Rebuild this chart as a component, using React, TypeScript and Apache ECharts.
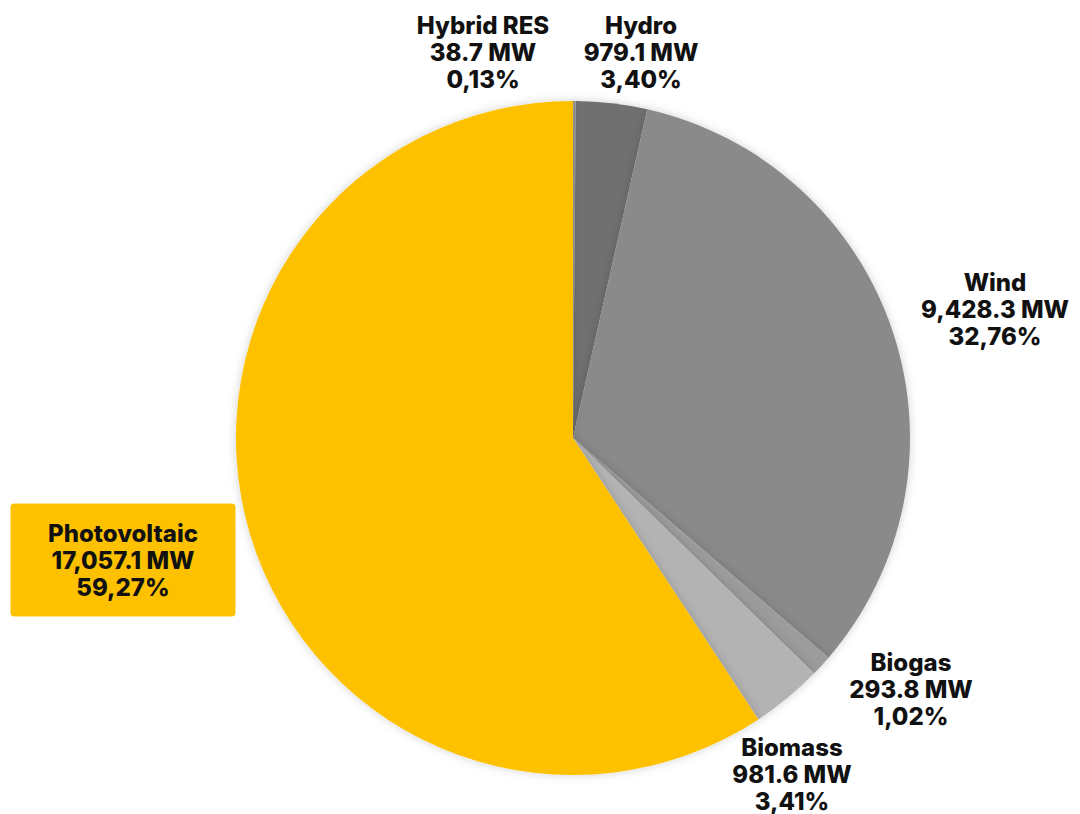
import React, { useEffect, useRef } from "react";
import * as echarts from "echarts";

const categories = ["Hybrid RES", "Hydro", "Wind", "Biogas", "Biomass", "Photovoltaic"];
const capacityMW = [38.7, 979.1, 9428.3, 293.8, 981.6, 17057.1];
const colors = ["#a3a3a3", "#6f6f6f", "#8a8a8a", "#9c9c9c", "#b3b3b3", "#fdc100"];
// label anchor points (layout only)
const labelPos = [
  [483, 52],
  [641, 52],
  [995, 309],
  [911, 689],
  [792, 774],
  [123, 560],
];

function fmtMW(v: number): string {
  return v.toLocaleString("en-US", { minimumFractionDigits: 1, maximumFractionDigits: 1 }) + " MW";
}

export default function App() {
  const ref = useRef<HTMLDivElement>(null);
  useEffect(() => {
    if (!ref.current) return;
    const chart = echarts.init(ref.current, null, { renderer: "svg" });
    const total = capacityMW.reduce((a, b) => a + b, 0);
    const textStyle = {
      fontFamily: "Inter, 'Noto Sans', sans-serif",
      fontWeight: 800 as any,
      fontSize: 24,
      lineHeight: 27,
      color: "#111111",
      align: "center" as const,
    };
    const data = categories.map((name, i) => {
      const d: any = {
        name,
        value: capacityMW[i],
        itemStyle: { color: colors[i] },
      };
      if (name === "Photovoltaic") {
        d.label = {
          backgroundColor: "#fdc100",
          padding: [17, 12, 15, 12],
          width: 201,
          borderRadius: 4,
        };
      }
      return d;
    });
    chart.setOption({
      animation: false,
      backgroundColor: "#ffffff",
      series: [
        {
          type: "pie",
          center: [573, 438],
          radius: 337,
          startAngle: 90,
          clockwise: true,
          avoidLabelOverlap: false,
          itemStyle: {
            shadowBlur: 10,
            shadowColor: "rgba(0,0,0,0.18)",
          },
          label: {
            show: true,
            position: "outside",
            ...textStyle,
            formatter: (p: any) => {
              const pct = ((p.value / total) * 100).toFixed(2).replace(".", ",");
              return `${p.name}\n${fmtMW(p.value)}\n${pct}%`;
            },
          },
          labelLine: { show: false },
          labelLayout: (params: any) => {
            const pos = labelPos[params.dataIndex];
            return { x: pos[0], y: pos[1], align: "center", verticalAlign: "middle" };
          },
          emphasis: { disabled: true },
          data,
        },
      ],
    });
    return () => chart.dispose();
  }, []);
  return (
    <div
      ref={ref}
      style={{ position: "absolute", left: 0, top: 0, width: 1080, height: 814 }}
    />
  );
}
